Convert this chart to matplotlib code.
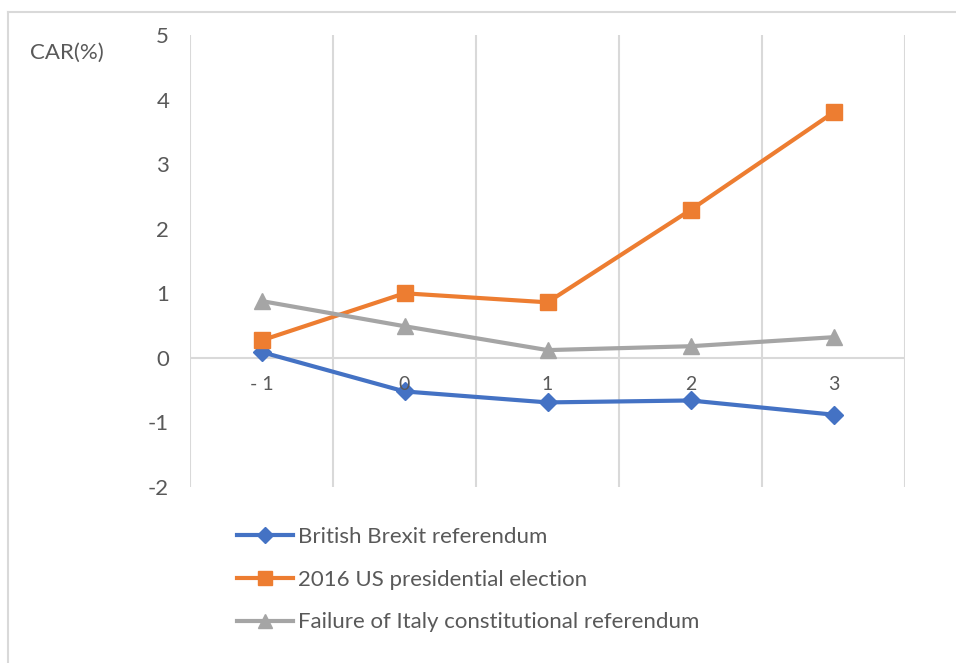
import matplotlib
matplotlib.use("Agg")
import matplotlib.pyplot as plt
from matplotlib.lines import Line2D

categories = ["-1", "0", "1", "2", "3"]
brexit = [0.09, -0.52, -0.69, -0.66, -0.88]
us_election = [0.27, 1.00, 0.86, 2.29, 3.80]
italy = [0.88, 0.49, 0.12, 0.18, 0.32]
series_names = ["British Brexit referendum", "2016 US presidential election",
                "Failure of Italy constitutional referendum"]
y_ticks = [5, 4, 3, 2, 1, 0, -1, -2]

plt.rcParams['font.family'] = ['Lato', 'DejaVu Sans']
W, H = 956, 663
fig = plt.figure(figsize=(W / 100, H / 100), dpi=100)
ax = fig.add_axes([190 / W, 1 - 487 / H, (905 - 190) / W, (487 - 35) / H])

text_col = "#595959"
grid_col = "#D9D9D9"
colors = ["#4472C4", "#ED7D31", "#A5A5A5"]
markers = ["D", "s", "^"]
msizes = [9.5, 11, 11.5]

x = list(range(len(categories)))
for vals, c, m, ms, name in zip([brexit, us_election, italy], colors, markers, msizes, series_names):
    ax.plot(x, vals, color=c, lw=3, marker=m, markersize=ms, label=name, zorder=3,
            solid_capstyle='round')

ax.set_xlim(-0.5, len(categories) - 0.5)
ax.set_ylim(-2, 5)
for b in [i - 0.5 for i in range(len(categories) + 1)]:
    ax.axvline(b, color=grid_col, lw=1.5, zorder=1)
ax.axhline(0, color=grid_col, lw=1.5, zorder=1)
for s in ax.spines.values():
    s.set_visible(False)
ax.set_xticks([])
ax.set_yticks(y_ticks)
ax.set_yticklabels([str(t) for t in y_ticks], fontsize=16, color=text_col)
ax.tick_params(axis='y', length=0, pad=15)
for xi, lab in zip(x, categories):
    ax.annotate(lab.replace("-", "- "), (xi, 0), xytext=(0, -13), textcoords='offset points',
                ha='center', va='top', fontsize=14, color=text_col)

fig.text(30 / W, 1 - 53 / H, "CAR(%)", fontsize=16, color=text_col, va='center', ha='left')

handles = [Line2D([0], [0], color=c, lw=3, marker=m, markersize=ms - 1)
           for c, m, ms in zip(colors, markers, msizes)]
leg = fig.legend(handles, series_names, loc='upper left',
                 bbox_to_anchor=(217 / W, 1 - 507 / H), frameon=False,
                 fontsize=16, labelcolor=text_col, handlelength=2.5,
                 handletextpad=0.25, labelspacing=1.02)

# outer border (top and left visible)
fig.add_artist(Line2D([8 / W, 1], [1 - 12 / H, 1 - 12 / H], color=grid_col, lw=1.5, transform=fig.transFigure))
fig.add_artist(Line2D([8 / W, 8 / W], [1 - 12 / H, 0], color=grid_col, lw=1.5, transform=fig.transFigure))

fig.savefig("out.png", dpi=100, facecolor='white')
